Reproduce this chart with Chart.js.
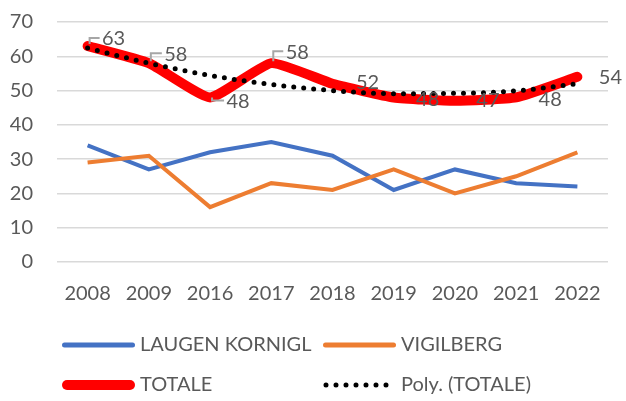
<!DOCTYPE html>
<html>
<head>
<meta charset="utf-8">
<script src="https://cdn.jsdelivr.net/npm/chart.js@4"></script>
<style>
  html, body { margin: 0; padding: 0; background: #fff; }
  #wrap { width: 626px; height: 401px; position: relative; overflow: hidden; }
  #grafico { position: absolute; left: 0; top: -14px; }
</style>
</head>
<body>
<div id="wrap"><canvas id="grafico" width="626" height="415"></canvas></div>
<script>
// dati
const anni = ['2008', '2009', '2016', '2017', '2018', '2019', '2020', '2021', '2022'];
const laugenKornigl = [34, 27, 32, 35, 31, 21, 27, 23, 22];
const vigilberg = [29, 31, 16, 23, 21, 27, 20, 25, 32];
const totale = [63, 58, 48, 58, 52, 48, 47, 48, 54];
const polyTotale = [62.4, 58, 54.4, 51.8, 50, 49.1, 49.2, 49.9, 52];
const tickY = [0, 10, 20, 30, 40, 50, 60, 70];

const FONT = 'Lato, "Open Sans", sans-serif';
const GRIGIO = '#595959';

// spostamento etichette TOTALE rispetto al punto [dx, dy], leader = linea guida
const etichetteStile = [
    { dx: 26, dy: -7, leader: true },
    { dx: 27, dy: -9, leader: true },
    { dx: 28, dy: 4, leader: true },
    { dx: 26, dy: -11, leader: true },
    { dx: 35, dy: -1, leader: false },
    { dx: 34, dy: 2, leader: false },
    { dx: 33, dy: 0, leader: false },
    { dx: 34, dy: 2, leader: false },
    { dx: 33, dy: 1, leader: false }
];

// etichette dati con linee guida (stile Excel)
const etichettePlugin = {
    id: 'etichette',
    afterDatasetsDraw(chart) {
        const ctx = chart.ctx;
        const meta = chart.getDatasetMeta(2);
        ctx.save();
        ctx.font = '20px ' + FONT;
        ctx.textAlign = 'center';
        ctx.textBaseline = 'middle';
        meta.data.forEach((p, i) => {
            const s = etichetteStile[i];
            const lx = p.x + s.dx;
            const ly = p.y + s.dy;
            if (s.leader) {
                ctx.strokeStyle = '#A6A6A6';
                ctx.lineWidth = 2;
                ctx.beginPath();
                ctx.moveTo(p.x + 2, p.y + (s.dy < 0 ? -2 : 0));
                ctx.lineTo(p.x + 2, ly - 1);
                ctx.lineTo(lx - 14, ly - 1);
                ctx.stroke();
            }
            ctx.fillStyle = GRIGIO;
            ctx.fillText(String(totale[i]), lx, ly);
        });
        ctx.restore();
    }
};

// legenda a griglia 2x2 come in Excel
const legendaPlugin = {
    id: 'legendaGriglia',
    afterDraw(chart) {
        const ctx = chart.ctx;
        const colonne = [62, 323];
        const righe = [359, 399];
        ctx.save();
        ctx.font = '20px ' + FONT;
        ctx.textBaseline = 'middle';
        ctx.textAlign = 'left';
        chart.data.datasets.forEach((ds, i) => {
            const x = colonne[i % 2];
            const y = righe[Math.floor(i / 2)];
            ctx.strokeStyle = ds.borderColor;
            ctx.lineCap = 'round';
            if (ds.borderDash && ds.borderDash.length) {
                ctx.lineWidth = 5;
                ctx.setLineDash([0, 10]);
                ctx.beginPath();
                ctx.moveTo(x + 3, y);
                ctx.lineTo(x + 66, y);
                ctx.stroke();
                ctx.setLineDash([]);
            } else {
                ctx.lineWidth = ds.legendWidth;
                ctx.beginPath();
                ctx.moveTo(x + ds.legendWidth / 2, y);
                ctx.lineTo(x + 73 - ds.legendWidth / 2, y);
                ctx.stroke();
            }
            ctx.fillStyle = GRIGIO;
            ctx.fillText(ds.label, x + 78, y);
        });
        ctx.restore();
    }
};

const grafico = new Chart(document.getElementById('grafico'), {
    type: 'line',
    data: {
        labels: anni,
        datasets: [
            {
                label: 'LAUGEN KORNIGL',
                data: laugenKornigl,
                borderColor: '#4472C4',
                borderWidth: 4,
                legendWidth: 5,
                pointRadius: 0,
                tension: 0,
                order: 3
            },
            {
                label: 'VIGILBERG',
                data: vigilberg,
                borderColor: '#ED7D31',
                borderWidth: 4,
                legendWidth: 5,
                pointRadius: 0,
                tension: 0,
                order: 2
            },
            {
                label: 'TOTALE',
                data: totale,
                borderColor: '#FF0000',
                borderWidth: 10,
                legendWidth: 10,
                borderJoinStyle: 'round',
                borderCapStyle: 'round',
                pointRadius: 0,
                tension: 0.15,
                order: 1
            },
            {
                label: 'Poly. (TOTALE)',
                data: polyTotale,
                borderColor: '#000000',
                borderWidth: 5,
                borderDash: [0, 10],
                borderCapStyle: 'round',
                pointRadius: 0,
                cubicInterpolationMode: 'monotone',
                order: 0
            }
        ]
    },
    options: {
        responsive: false,
        animation: false,
        events: [],
        layout: { padding: { left: 10, right: 18, top: 9, bottom: 75 } },
        plugins: {
            legend: { display: false },
            tooltip: { enabled: false }
        },
        scales: {
            x: {
                offset: true,
                grid: { display: false, drawTicks: false },
                border: { display: false },
                ticks: {
                    color: GRIGIO,
                    font: { family: FONT, size: 20 },
                    padding: 20,
                    maxRotation: 0
                }
            },
            y: {
                min: 0,
                max: 70,
                afterBuildTicks: axis => { axis.ticks = tickY.map(v => ({ value: v })); },
                afterFit: axis => { axis.width = 47; },
                grid: { color: '#D9D9D9', lineWidth: 1.5, drawTicks: false },
                border: { display: false },
                ticks: {
                    color: GRIGIO,
                    font: { family: FONT, size: 20 },
                    padding: 24
                }
            }
        }
    },
    plugins: [etichettePlugin, legendaPlugin]
});
</script>
</body>
</html>
